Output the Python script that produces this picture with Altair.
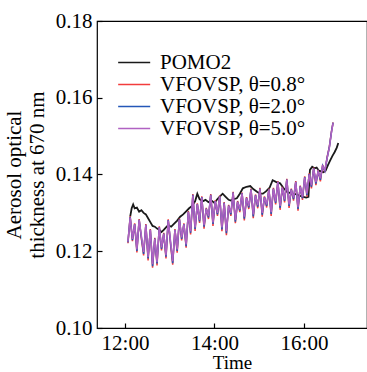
import altair as alt
import pandas as pd

series_names = ["POMO2", "VFOVSP, θ=0.8°", "VFOVSP, θ=2.0°", "VFOVSP, θ=5.0°"]
series_colors = ["#1a1a1a", "#f23c3c", "#2457b8", "#b062c2"]

# minutes after 12:00
pomo_minutes = [7, 9, 11, 13, 16, 19, 22, 25, 28, 31, 34, 37, 40, 43, 46, 49, 52, 55, 58, 62,
                66, 70, 74, 78, 82, 86, 90, 94, 97, 100, 104, 108, 112, 116, 120, 124, 128, 131,
                135, 139, 142, 146, 150, 154, 158, 163, 168, 172, 177, 181, 185, 189, 194, 198,
                203, 208, 212, 217, 221, 225, 230, 235, 239, 243, 246, 248, 251, 254, 257, 260,
                263, 266, 269, 272, 275, 278, 281, 284, 286]
pomo_values = [0.1290, 0.1312, 0.1322, 0.1312, 0.1314, 0.1303, 0.1307, 0.1300, 0.1296, 0.1286,
               0.1276, 0.1266, 0.1264, 0.1259, 0.1256, 0.1250, 0.1256, 0.1262, 0.1268, 0.1264,
               0.1272, 0.1280, 0.1290, 0.1296, 0.1304, 0.1312, 0.1318, 0.1330, 0.1350, 0.1336,
               0.1330, 0.1334, 0.1328, 0.1332, 0.1326, 0.1336, 0.1344, 0.1350, 0.1342, 0.1334,
               0.1332, 0.1336, 0.1338, 0.1350, 0.1364, 0.1368, 0.1370, 0.1362, 0.1355, 0.1350,
               0.1350, 0.1356, 0.1366, 0.1385, 0.1380, 0.1377, 0.1366, 0.1355, 0.1352, 0.1350,
               0.1348, 0.1344, 0.1342, 0.1340, 0.1342, 0.1412, 0.1420, 0.1416, 0.1418, 0.1410,
               0.1408, 0.1406, 0.1410, 0.1424, 0.1436, 0.1448, 0.1458, 0.1470, 0.1482]

vf_minutes = list(range(4, 278, 3)) + [279]
vf08_values = [0.1221, 0.1291, 0.1226, 0.1273, 0.1197, 0.1284, 0.1233, 0.1189, 0.1271, 0.1176,
               0.1258, 0.1157, 0.1235, 0.1163, 0.1265, 0.1202, 0.1248, 0.1181, 0.1283, 0.1220,
               0.1165, 0.1258, 0.1196, 0.1285, 0.1228, 0.1273, 0.1209, 0.1305, 0.1244, 0.1349,
               0.1253, 0.1325, 0.1274, 0.1343, 0.1259, 0.1313, 0.1284, 0.1349, 0.1266, 0.1333,
               0.1292, 0.1345, 0.1252, 0.1328, 0.1242, 0.1321, 0.1292, 0.1355, 0.1273, 0.1331,
               0.1302, 0.1353, 0.1280, 0.1341, 0.1310, 0.1363, 0.1286, 0.1348, 0.1312, 0.1365,
               0.1290, 0.1343, 0.1314, 0.1363, 0.1292, 0.1365, 0.1322, 0.1383, 0.1308, 0.1368,
               0.1327, 0.1389, 0.1313, 0.1363, 0.1332, 0.1383, 0.1306, 0.1371, 0.1334, 0.1395,
               0.1342, 0.1403, 0.1364, 0.1418, 0.1372, 0.1411, 0.1382, 0.1425, 0.1406, 0.1445,
               0.1472, 0.1514, 0.1536]
vf20_values = [0.1223, 0.1289, 0.1229, 0.1271, 0.1201, 0.1282, 0.1236, 0.1193, 0.1269, 0.1181,
               0.1256, 0.1161, 0.1233, 0.1168, 0.1263, 0.1206, 0.1246, 0.1186, 0.1281, 0.1224,
               0.1169, 0.1256, 0.1201, 0.1283, 0.1232, 0.1271, 0.1213, 0.1303, 0.1248, 0.1347,
               0.1258, 0.1323, 0.1278, 0.1341, 0.1264, 0.1311, 0.1288, 0.1347, 0.1271, 0.1331,
               0.1296, 0.1343, 0.1257, 0.1326, 0.1247, 0.1319, 0.1296, 0.1353, 0.1277, 0.1329,
               0.1306, 0.1351, 0.1285, 0.1339, 0.1314, 0.1361, 0.1291, 0.1346, 0.1316, 0.1363,
               0.1295, 0.1341, 0.1318, 0.1361, 0.1297, 0.1363, 0.1326, 0.1381, 0.1313, 0.1366,
               0.1331, 0.1387, 0.1318, 0.1361, 0.1336, 0.1381, 0.1310, 0.1369, 0.1338, 0.1393,
               0.1346, 0.1401, 0.1368, 0.1416, 0.1376, 0.1409, 0.1386, 0.1423, 0.1409, 0.1443,
               0.1471, 0.1513, 0.1535]
vf50_values = [0.1225, 0.1288, 0.1232, 0.1270, 0.1205, 0.1281, 0.1240, 0.1198, 0.1268, 0.1185,
               0.1255, 0.1166, 0.1232, 0.1172, 0.1262, 0.1210, 0.1245, 0.1190, 0.1280, 0.1228,
               0.1174, 0.1255, 0.1205, 0.1282, 0.1236, 0.1270, 0.1218, 0.1302, 0.1252, 0.1345,
               0.1262, 0.1322, 0.1282, 0.1340, 0.1268, 0.1310, 0.1292, 0.1346, 0.1275, 0.1330,
               0.1300, 0.1342, 0.1262, 0.1325, 0.1252, 0.1318, 0.1300, 0.1352, 0.1282, 0.1328,
               0.1310, 0.1350, 0.1290, 0.1338, 0.1318, 0.1360, 0.1296, 0.1345, 0.1320, 0.1362,
               0.1300, 0.1340, 0.1322, 0.1360, 0.1302, 0.1362, 0.1330, 0.1380, 0.1318, 0.1365,
               0.1335, 0.1386, 0.1322, 0.1360, 0.1340, 0.1380, 0.1315, 0.1368, 0.1342, 0.1392,
               0.1350, 0.1400, 0.1372, 0.1415, 0.1380, 0.1408, 0.1390, 0.1422, 0.1412, 0.1442,
               0.1470, 0.1512, 0.1534]

x_ticks = [0, 120, 240]
y_ticks = [0.10, 0.12, 0.14, 0.16, 0.18]

def frame(minutes, values, name):
    return pd.DataFrame({"t": minutes, "aot": values, "series": name})

df = pd.concat([
    frame(pomo_minutes, pomo_values, series_names[0]),
    frame(vf_minutes, vf08_values, series_names[1]),
    frame(vf_minutes, vf20_values, series_names[2]),
    frame(vf_minutes, vf50_values, series_names[3]),
])

FONT = "Liberation Serif"

color = alt.Color(
    "series:N",
    scale=alt.Scale(domain=series_names, range=series_colors),
    legend=alt.Legend(
        title=None, orient="none", legendX=16, legendY=31,
        labelFont=FONT, labelFontSize=21, labelColor="black",
        symbolType="M-1,0H5", symbolSize=114, symbolStrokeWidth=1.6,
        labelOffset=26, rowPadding=0, padding=0,
    ),
)

x = alt.X("t:Q", scale=alt.Scale(domain=[-37.5, 324.5], nice=False),
          axis=alt.Axis(values=x_ticks, labelExpr="(12 + datum.value/60) + ':00'",
                        title="Time", titleFontSize=19, grid=False, domain=False, offset=-5,
                        tickSize=5, labelPadding=4, titlePadding=0))
y = alt.Y("aot:Q", scale=alt.Scale(domain=[0.10, 0.18], nice=False, zero=False),
          axis=alt.Axis(values=y_ticks, format=".2f",
                        title=["Aerosol optical", "thickness at 670 nm"],
                        grid=False, domain=False, offset=-5, tickSize=5,
                        labelPadding=5, titlePadding=8))

layers = []
for i, name in enumerate(series_names):
    layers.append(
        alt.Chart(df[df["series"] == name]).mark_line(
            strokeWidth=1.8 if i == 0 else 1.5, strokeJoin="miter"
        ).encode(x=x, y=y, color=color, order="t:Q")
    )

chart = alt.layer(*layers).properties(
    width=270, height=307,
    background="white",
    autosize=alt.AutoSizeParams(type="none"),
    padding={"left": 97, "top": 21, "right": 0, "bottom": 44},
).configure_view(stroke="black", strokeWidth=1.2).configure_axis(
    labelFont=FONT, labelFontSize=21, labelColor="black",
    titleFont=FONT, titleFontSize=21, titleFontWeight="normal", titleColor="black",
    tickColor="black", tickWidth=1.2,
).configure_legend(labelFont=FONT, labelFontSize=21, labelColor="black")

chart.save("out.html", embed_options={"renderer": "svg", "actions": False})
